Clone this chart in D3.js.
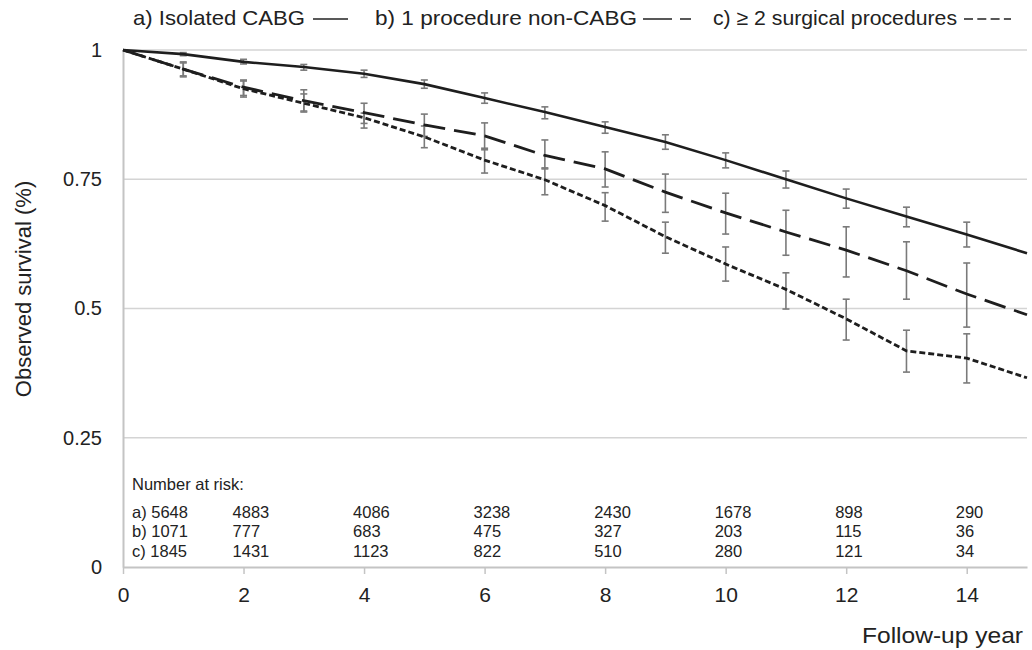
<!DOCTYPE html>
<html>
<head>
<meta charset="utf-8">
<script src="https://cdn.jsdelivr.net/npm/d3@7"></script>
<style>
  html, body { margin: 0; padding: 0; background: #fff; }
  svg { display: block; font-family: "Liberation Sans", Arial, sans-serif; }
</style>
</head>
<body>
<svg id="chart" width="1032" height="650"></svg>
<script>
// Follow-up years (0..15)
const years = d3.range(0, 16);

// Observed survival by group
const survA = [1, 0.992, 0.977, 0.967, 0.954, 0.934, 0.907, 0.880, 0.851, 0.822, 0.787, 0.750, 0.713, 0.678, 0.643, 0.607];
const survB = [1, 0.963, 0.928, 0.902, 0.879, 0.855, 0.834, 0.796, 0.770, 0.725, 0.685, 0.648, 0.613, 0.573, 0.528, 0.488];
const survC = [1, 0.963, 0.925, 0.897, 0.869, 0.832, 0.787, 0.749, 0.699, 0.639, 0.586, 0.537, 0.480, 0.418, 0.404, 0.366];

// Confidence intervals at years 1..14
const ciYears = d3.range(1, 15);
const loA = [0.989, 0.973, 0.961, 0.947, 0.926, 0.897, 0.867, 0.839, 0.808, 0.772, 0.733, 0.694, 0.658, 0.619];
const hiA = [0.995, 0.982, 0.972, 0.961, 0.942, 0.917, 0.890, 0.861, 0.836, 0.801, 0.766, 0.731, 0.696, 0.667];
const loB = [0.948, 0.912, 0.882, 0.858, 0.833, 0.807, 0.770, 0.735, 0.686, 0.644, 0.603, 0.561, 0.518, 0.464];
const hiB = [0.977, 0.942, 0.923, 0.897, 0.876, 0.859, 0.826, 0.803, 0.760, 0.723, 0.690, 0.658, 0.629, 0.588];
const loC = [0.950, 0.909, 0.880, 0.849, 0.811, 0.762, 0.720, 0.669, 0.607, 0.553, 0.499, 0.439, 0.377, 0.356];
const hiC = [0.975, 0.940, 0.915, 0.878, 0.853, 0.810, 0.772, 0.724, 0.667, 0.619, 0.569, 0.518, 0.458, 0.451];

// Numbers at risk
const riskYears = [0, 2, 4, 6, 8, 10, 12, 14];
const riskA = [5648, 4883, 4086, 3238, 2430, 1678, 898, 290];
const riskB = [1071, 777, 683, 475, 327, 203, 115, 36];
const riskC = [1845, 1431, 1123, 822, 510, 280, 121, 34];

const xTicks = [0, 2, 4, 6, 8, 10, 12, 14];
const yTicks = [0, 0.25, 0.5, 0.75, 1];
const yTickLabels = ["0", "0.25", "0.5", "0.75", "1"];

const seriesLabels = ["a) Isolated CABG", "b) 1 procedure non-CABG", "c) \u2265 2 surgical procedures"];

const svg = d3.select("#chart");
const x = d3.scaleLinear().domain([0, 15]).range([123, 1027]);
const y = d3.scaleLinear().domain([0, 1]).range([567, 50]);

const gridColor = "#d4d4d4";
const axisColor = "#c4c4c4";
const lineColor = "#1e1e1e";
const barColor = "#7a7a7a";

// Horizontal gridlines
svg.append("g").selectAll("line")
  .data(yTicks.filter(d => d > 0))
  .join("line")
  .attr("x1", x(0)).attr("x2", x(15))
  .attr("y1", d => y(d)).attr("y2", d => y(d))
  .attr("stroke", gridColor).attr("stroke-width", 1.3);

// Y axis
const yAxis = d3.axisLeft(y).tickValues(yTicks).tickSize(0).tickPadding(21)
  .tickFormat((d, i) => yTickLabels[i]);
const gy = svg.append("g").attr("transform", `translate(${x(0)},0)`).call(yAxis);
gy.select(".domain").attr("stroke", axisColor).attr("stroke-width", 2);
gy.selectAll("text").attr("font-size", 20).attr("fill", "#222")
  .attr("font-family", "'Liberation Sans', Arial, sans-serif");

// X axis
const xAxis = d3.axisBottom(x).tickValues(xTicks).tickSize(7).tickPadding(13).tickSizeOuter(0);
const gx = svg.append("g").attr("transform", `translate(0,${y(0)})`).call(xAxis);
gx.select(".domain").attr("stroke", axisColor).attr("stroke-width", 2);
gx.selectAll(".tick line").attr("stroke", axisColor).attr("stroke-width", 1.5);
gx.selectAll("text").attr("font-size", 21).attr("fill", "#222")
  .attr("font-family", "'Liberation Sans', Arial, sans-serif");

// Error bars
function drawBars(lo, hi) {
  const g = svg.append("g").attr("stroke", barColor).attr("stroke-width", 1.6);
  ciYears.forEach((t, i) => {
    const cx = x(t);
    g.append("line").attr("x1", cx).attr("x2", cx).attr("y1", y(lo[i])).attr("y2", y(hi[i]));
    g.append("line").attr("x1", cx - 3.5).attr("x2", cx + 3.5).attr("y1", y(lo[i])).attr("y2", y(lo[i]));
    g.append("line").attr("x1", cx - 3.5).attr("x2", cx + 3.5).attr("y1", y(hi[i])).attr("y2", y(hi[i]));
  });
}
drawBars(loA, hiA);
drawBars(loB, hiB);
drawBars(loC, hiC);

// Survival curves
const line = d3.line().x((d, i) => x(years[i])).y(d => y(d));
const styles = [
  { data: survA, dash: null, width: 2.6 },
  { data: survB, dash: "22,9", width: 2.8 },
  { data: survC, dash: "6,3", width: 2.8 }
];
styles.forEach(s => {
  svg.append("path").datum(s.data)
    .attr("d", line)
    .attr("fill", "none")
    .attr("stroke", lineColor)
    .attr("stroke-width", s.width)
    .attr("stroke-dasharray", s.dash);
});

// Number at risk table
const riskG = svg.append("g").attr("font-size", 16.5).attr("fill", "#222");
riskG.append("text").attr("x", 132).attr("y", 484).attr("dy", "0.35em").text("Number at risk:");
[[riskA, "a) "], [riskB, "b) "], [riskC, "c) "]].forEach(([vals, pre], r) => {
  const rowY = 512 + r * 19.5;
  riskYears.forEach((t, i) => {
    riskG.append("text")
      .attr("x", i === 0 ? 132 : x(t) - 11)
      .attr("y", rowY).attr("dy", "0.35em")
      .text(i === 0 ? pre + vals[i] : vals[i]);
  });
});

// Axis titles
svg.append("text")
  .attr("transform", `translate(31,289) rotate(-90)`)
  .attr("text-anchor", "middle")
  .attr("font-size", 22).attr("fill", "#222")
  .text("Observed survival (%)");
svg.append("text")
  .attr("x", 862).attr("y", 635).attr("dy", "0.35em")
  .attr("font-size", 22).attr("fill", "#222")
  .attr("textLength", 161).attr("lengthAdjust", "spacingAndGlyphs")
  .text("Follow-up year");

// Legend
const legY = 18;
const leg = svg.append("g").attr("font-size", 21).attr("fill", "#222");
leg.append("text").attr("x", 133).attr("y", legY).attr("dy", "0.35em")
  .attr("textLength", 172).attr("lengthAdjust", "spacingAndGlyphs").text(seriesLabels[0]);
leg.append("line").attr("x1", 313).attr("x2", 348).attr("y1", legY + 1).attr("y2", legY + 1)
  .attr("stroke", "#222").attr("stroke-width", 1.6);
leg.append("text").attr("x", 375).attr("y", legY).attr("dy", "0.35em")
  .attr("textLength", 262).attr("lengthAdjust", "spacingAndGlyphs").text(seriesLabels[1]);
leg.append("line").attr("x1", 643).attr("x2", 691).attr("y1", legY + 1).attr("y2", legY + 1)
  .attr("stroke", "#222").attr("stroke-width", 1.6).attr("stroke-dasharray", "29,8,11,100");
leg.append("text").attr("x", 713).attr("y", legY).attr("dy", "0.35em")
  .attr("textLength", 244).attr("lengthAdjust", "spacingAndGlyphs").text(seriesLabels[2]);
leg.append("line").attr("x1", 964).attr("x2", 1011).attr("y1", legY + 1).attr("y2", legY + 1)
  .attr("stroke", "#222").attr("stroke-width", 1.6).attr("stroke-dasharray", "9,4.3");
</script>
</body>
</html>
